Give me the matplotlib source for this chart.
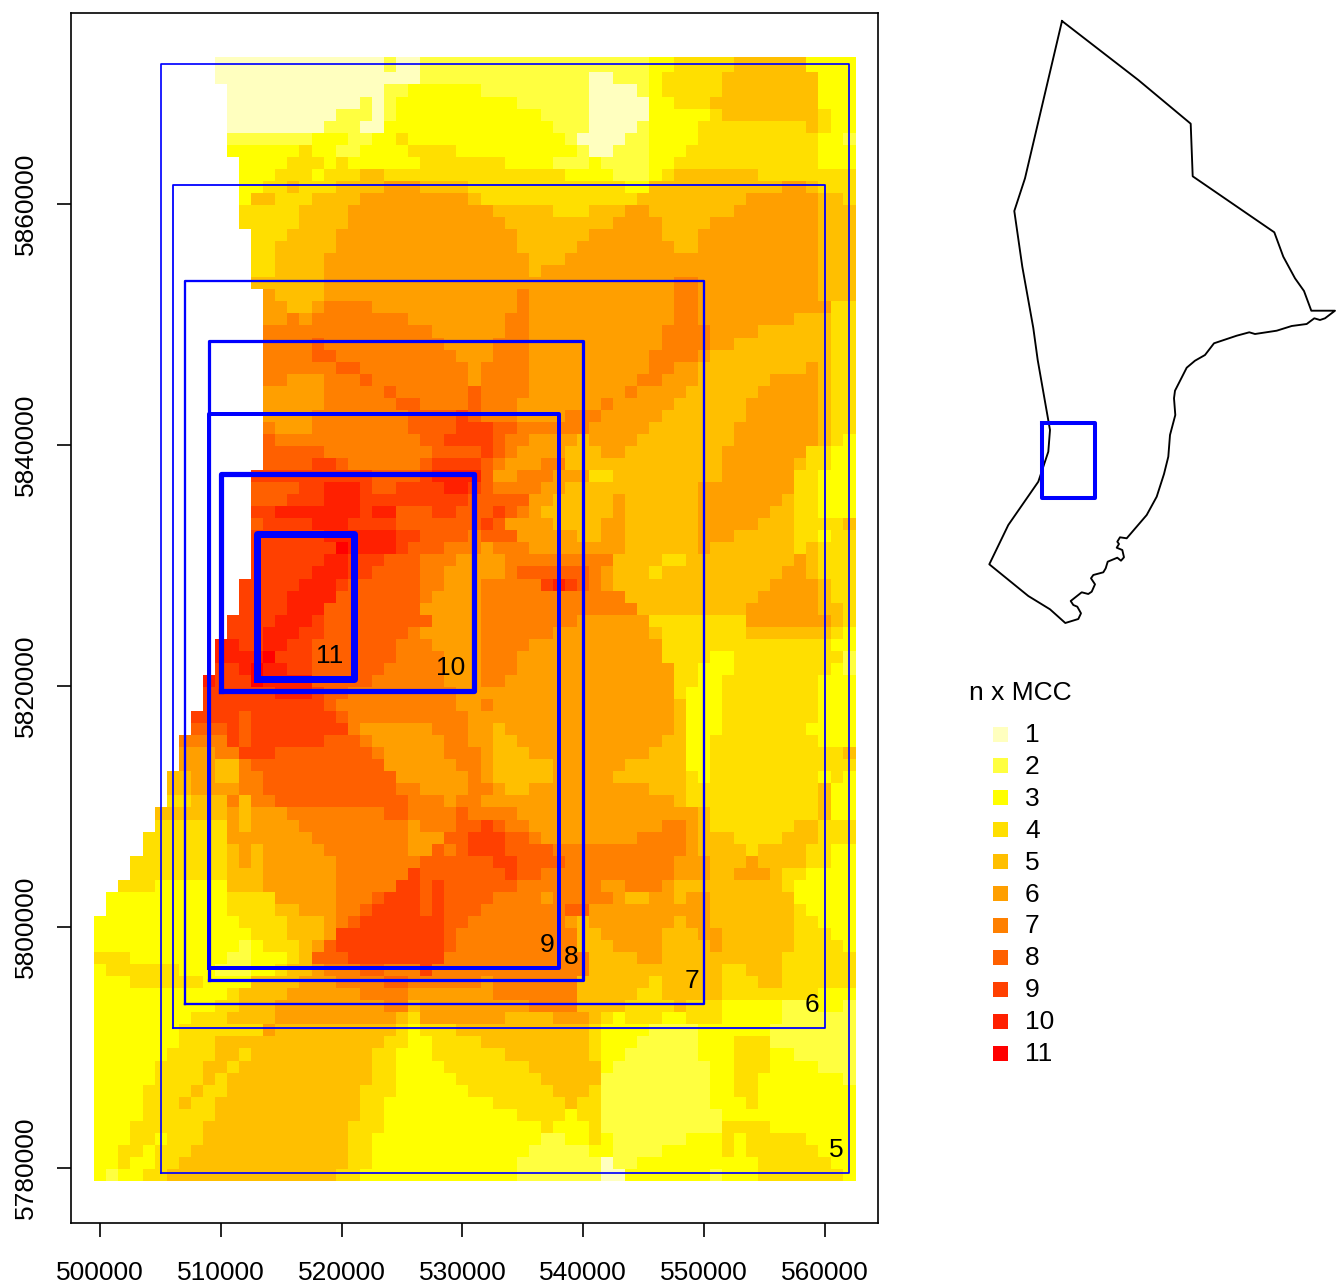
#!/usr/bin/python3

import numpy as np
import matplotlib
matplotlib.use('Agg')
import matplotlib.pyplot as plt
from matplotlib.colors import ListedColormap, BoundaryNorm
from matplotlib.patches import Rectangle

plt.rcParams['font.family'] = ['Liberation Sans', 'DejaVu Sans']

# n x MCC classes, top row first. "v@k" = value v up to (not including) column k, 0 = no data
raster_runs = [
    "0@10 1@24 2@25 1@27 2@46 3@48 4@53 5@59 3@63",
    "0@10 1@27 2@41 1@43 2@46 3@47 4@52 5@60 3@63",
    "0@11 1@24 2@26 3@32 2@41 1@45 2@46 3@47 4@52 5@60 3@63",
    "0@11 1@22 2@23 1@24 2@25 3@35 2@41 1@46 3@48 4@51 5@60 3@63",
    "0@11 1@20 2@23 1@24 2@25 3@37 2@41 1@46 3@51 4@52 5@60 4@61 3@63",
    "0@11 1@19 2@22 1@24 3@38 2@41 1@45 2@46 3@50 4@59 5@60 4@61 3@63",
    "0@11 2@18 3@21 2@23 3@25 4@26 3@39 2@40 1@44 2@46 3@50 4@60 3@62 2@63",
    "0@11 3@17 4@18 3@20 2@22 3@26 4@30 3@40 2@41 1@43 2@46 3@49 4@60 3@63",
    "0@12 3@16 4@19 3@20 4@21 3@27 4@34 3@38 2@41 3@42 2@46 3@48 4@60 3@63",
    "0@12 3@15 4@18 3@19 4@22 5@24 4@39 3@43 2@46 3@47 4@48 5@55 4@63",
    "0@12 3@14 4@16 5@17 4@20 5@24 6@27 5@31 4@44 3@46 5@57 6@59 5@60 4@63",
    "0@12 3@13 5@15 4@18 5@22 6@31 5@32 4@45 5@54 6@60 5@62 4@63",
    "0@12 4@17 5@21 6@33 5@38 4@41 5@44 6@46 5@53 6@60 5@63",
    "0@12 4@17 5@21 6@34 5@43 6@47 5@51 6@60 5@63",
    "0@13 4@16 5@20 6@35 5@41 6@47 5@50 6@60 5@63",
    "0@13 4@15 5@20 6@35 5@40 6@48 5@50 6@60 5@63",
    "0@13 4@15 5@19 6@36 5@39 6@60 5@63",
    "0@13 4@15 5@19 6@36 5@37 6@60 5@63",
    "0@13 5@19 6@48 7@50 6@60 5@63",
    "0@14 6@15 5@19 6@35 7@36 6@48 7@50 6@60 5@63",
    "0@14 6@16 5@18 6@19 7@23 6@35 7@36 6@48 7@50 6@61 4@63",
    "0@14 6@16 7@17 6@18 7@26 6@34 7@36 6@48 7@50 6@58 5@61 4@63",
    "0@14 7@28 6@34 7@36 6@47 7@51 6@55 5@61 4@63",
    "0@14 7@18 8@19 7@29 6@33 7@36 6@47 7@51 6@53 5@61 4@63",
    "0@14 7@18 8@20 7@30 6@33 7@36 6@46 7@50 6@51 5@61 4@63",
    "0@14 7@20 8@22 7@31 6@32 7@36 6@46 7@48 6@50 5@59 6@60 5@61 4@63",
    "0@14 7@16 6@19 7@22 8@23 7@31 6@32 7@36 6@45 7@47 6@50 5@56 6@60 5@61 4@63",
    "0@14 6@19 7@24 8@25 7@31 8@32 7@36 6@44 7@45 6@49 5@55 6@60 5@61 4@63",
    "0@14 6@19 7@25 8@27 7@31 8@32 7@35 6@42 7@43 6@48 5@54 6@60 5@61 4@63",
    "0@14 6@18 7@26 8@30 9@31 8@32 7@35 6@39 7@42 6@47 5@54 6@60 5@61 4@63",
    "0@14 7@15 6@18 7@26 8@30 9@33 8@35 7@41 6@46 5@53 6@60 5@61 4@63",
    "0@14 8@15 7@27 8@29 9@33 8@34 7@36 6@40 5@41 6@45 5@53 6@60 5@61 4@62 3@63",
    "0@14 8@19 7@28 8@32 9@33 8@34 7@35 6@39 5@42 6@44 5@52 6@59 4@61 3@63",
    "0@14 8@18 9@20 8@21 7@27 8@28 9@32 8@33 7@34 6@37 7@39 5@52 6@58 5@59 4@61 3@63",
    "0@13 9@23 8@27 9@28 10@32 8@33 6@35 7@38 6@41 4@43 5@52 6@58 4@60 3@63",
    "0@13 8@17 9@19 10@22 9@23 8@25 9@29 10@31 9@32 8@33 7@37 6@39 5@50 6@58 4@60 3@63",
    "0@13 8@16 9@19 10@22 9@31 8@36 6@38 5@43 6@44 5@50 6@57 5@58 4@60 3@63",
    "0@13 9@15 10@22 9@23 10@25 8@28 9@30 8@33 9@34 8@35 7@36 6@37 5@43 6@44 5@50 6@56 5@58 4@60 3@63",
    "0@13 8@14 9@18 10@21 9@25 8@32 9@33 8@34 6@38 5@42 6@44 5@50 6@55 5@58 4@62 5@63",
    "0@13 9@19 10@25 9@27 8@31 7@32 8@35 6@40 5@42 6@44 5@50 6@53 5@58 4@60 3@61 4@63",
    "0@13 9@20 11@21 10@25 9@26 8@29 7@32 6@33 7@36 6@44 5@50 6@51 5@58 4@59 5@60 4@63",
    "0@13 9@19 10@21 9@24 8@27 7@30 6@34 7@43 5@47 4@49 5@58 6@59 5@60 4@63",
    "0@13 9@18 10@21 9@23 8@27 7@29 6@34 7@35 8@41 7@42 6@43 5@46 4@47 5@57 6@59 5@60 4@63",
    "0@12 9@17 10@20 9@21 8@27 7@29 6@32 7@37 9@38 10@39 9@40 8@41 7@42 6@43 5@56 6@60 5@61 4@63",
    "0@12 9@16 10@20 8@27 7@28 6@32 7@44 5@55 6@60 5@61 4@63",
    "0@12 9@16 10@19 8@27 6@32 7@45 5@54 6@60 5@62 4@63",
    "0@11 9@15 10@18 9@19 8@28 6@32 7@40 6@46 4@54 6@61 5@62 4@63",
    "0@11 9@14 10@17 9@19 8@26 7@27 6@32 7@38 6@46 5@47 4@54 5@61 4@62 3@63",
    "0@10 10@12 9@14 10@16 9@18 8@25 7@28 6@32 7@36 6@47 4@61 3@63",
    "0@10 10@14 11@15 9@18 8@25 7@29 6@32 7@35 6@47 4@51 3@53 4@62 2@63",
    "0@10 9@12 10@13 11@14 10@16 9@18 8@24 7@29 6@32 7@35 6@48 4@50 3@53 4@61 3@62 2@63",
    "0@9 10@10 9@13 11@14 10@18 8@23 7@29 6@32 7@34 6@48 4@50 3@52 4@60 3@63",
    "0@9 9@15 10@18 9@19 8@21 7@30 6@48 4@49 3@52 4@60 3@63",
    "0@9 9@19 8@20 7@30 6@32 7@33 6@48 5@49 3@52 4@60 3@63",
    "0@8 9@12 8@13 9@20 8@21 7@31 6@48 5@49 3@52 4@60 3@63",
    "0@8 8@11 9@12 8@13 9@21 7@22 6@28 7@31 6@33 5@34 6@48 5@49 3@52 4@59 3@63",
    "0@7 7@11 9@12 8@13 9@19 8@22 7@23 6@29 7@31 6@33 5@35 6@47 5@49 3@51 4@60 3@63",
    "0@7 6@10 7@12 9@15 8@23 7@24 6@29 7@32 6@33 5@36 6@46 5@49 3@51 4@62 5@63",
    "0@7 6@10 5@12 7@13 8@24 6@30 7@32 6@33 5@38 6@44 5@49 3@51 4@63",
    "0@6 5@8 6@10 5@12 7@14 8@25 6@31 7@32 6@33 5@38 6@43 5@49 4@50 3@51 4@60 3@61 4@62 3@63",
    "0@6 5@8 6@12 7@14 8@25 7@27 6@31 7@33 6@34 5@36 6@46 5@49 4@60 5@61 3@63",
    "0@6 4@8 5@11 7@12 5@13 7@15 8@26 7@29 6@30 7@32 6@48 5@49 4@60 5@61 3@63",
    "0@5 5@11 6@12 5@13 6@16 7@24 8@26 7@30 8@31 7@35 6@50 5@51 4@60 5@61 3@63",
    "0@5 4@11 6@12 5@13 6@17 7@26 6@27 7@30 8@32 9@33 8@34 7@36 6@47 7@49 6@50 5@51 4@58 5@60 4@63",
    "0@4 4@11 6@18 7@26 6@29 8@31 9@34 8@36 7@37 6@45 7@49 6@50 5@53 4@57 5@60 4@63",
    "0@4 4@11 5@12 6@13 5@14 6@19 7@26 6@28 8@29 7@30 8@31 9@34 8@38 7@49 6@50 5@54 4@55 5@59 4@61 3@63",
    "0@3 4@11 5@12 6@13 5@14 6@20 7@27 8@33 9@35 8@39 7@48 6@51 5@54 6@55 5@59 4@61 3@63",
    "0@3 4@11 5@14 6@20 7@26 9@27 8@34 9@35 8@37 7@48 6@51 5@53 6@56 5@57 4@59 3@63",
    "0@2 4@5 3@11 5@14 6@20 7@25 9@27 8@28 9@29 8@35 7@42 6@44 7@47 6@48 5@57 4@58 3@63",
    "0@1 3@11 4@15 6@20 7@23 8@24 9@27 8@28 9@29 8@33 7@37 6@38 7@43 6@44 5@46 6@48 5@49 6@51 5@58 3@63",
    "0@1 3@11 4@15 5@17 6@20 7@22 8@23 9@27 8@28 9@29 8@32 7@39 8@41 6@51 5@58 4@59 3@63",
    "3@12 4@16 5@19 6@20 7@21 8@22 9@29 8@31 7@39 6@40 5@41 6@48 5@49 6@51 5@58 4@60 3@63",
    "3@13 4@16 5@19 6@20 9@29 8@30 7@40 5@42 6@47 5@50 6@52 5@58 4@61 3@63",
    "3@12 2@13 3@14 4@17 5@18 6@19 8@20 9@29 8@30 7@40 5@43 6@47 5@51 6@52 5@58 4@62 3@63",
    "4@3 3@11 2@13 3@16 4@17 5@18 8@21 9@29 7@41 5@45 6@47 5@57 4@63",
    "3@1 4@7 3@10 2@13 3@15 4@16 5@18 6@19 7@22 8@24 7@27 9@28 7@41 5@52 4@54 5@57 4@63",
    "3@3 4@9 3@13 5@17 6@20 7@24 8@26 7@32 6@33 7@40 5@46 4@47 5@52 4@55 5@57 4@63",
    "3@11 4@12 5@16 6@22 7@26 6@33 7@40 5@45 4@47 5@52 4@60 3@63",
    "3@10 4@12 5@15 6@24 7@26 5@27 6@36 7@40 5@44 4@48 5@49 4@52 3@57 2@60 3@62 2@63",
    "3@8 4@11 5@15 6@25 5@26 4@27 6@34 5@38 6@41 5@42 4@43 3@44 4@47 3@49 4@52 3@57 2@63",
    "3@7 4@14 6@15 5@25 4@26 3@27 4@30 5@41 4@42 3@46 2@50 3@56 2@63",
    "3@7 4@10 5@24 4@26 3@28 4@32 5@41 4@42 3@45 2@50 3@53 4@56 2@63",
    "3@6 4@10 5@12 4@13 5@23 4@25 3@28 4@34 5@41 4@42 3@44 2@50 3@53 4@56 3@58 2@63",
    "3@5 4@9 5@11 4@12 5@23 4@25 3@29 4@36 5@42 3@43 2@51 3@53 4@56 3@60 2@63",
    "3@5 4@9 5@10 4@11 5@23 4@25 3@30 4@37 5@42 2@51 3@53 4@55 3@62 2@63",
    "3@4 4@8 5@9 4@11 5@22 4@25 3@31 4@38 5@41 4@42 2@51 3@53 4@55 3@63",
    "3@4 4@7 5@8 4@10 5@22 4@24 3@33 4@39 5@40 4@42 2@51 3@54 4@55 3@63",
    "3@4 4@10 5@22 4@24 3@35 4@39 3@40 4@42 2@52 3@63",
    "3@3 4@9 5@21 4@24 3@37 4@38 3@41 4@42 2@52 4@56 3@63",
    "3@3 4@5 3@6 4@9 5@21 4@23 3@37 2@39 3@41 4@42 3@43 2@49 3@52 4@53 3@54 4@59 3@63",
    "3@2 4@4 3@5 4@8 5@21 4@23 3@36 2@41 3@43 2@47 3@52 4@53 3@54 4@60 3@63",
    "3@2 4@3 3@5 4@7 5@21 4@23 3@35 2@42 1@43 2@45 3@55 4@61 3@63",
    "3@1 2@2 3@4 4@6 5@20 4@22 3@35 2@42 1@44 3@51 2@52 3@55 4@62 3@63",
]

class_labels = ['1', '2', '3', '4', '5', '6', '7', '8', '9', '10', '11']
class_colors = ['#FFFFBF', '#FFFF40', '#FFFF00', '#FFDF00', '#FFBF00', '#FF9F00',
                '#FF8000', '#FF6000', '#FF4000', '#FF2000', '#FF0000']

# study windows for 5..11 x MCC
box_labels = ['5', '6', '7', '8', '9', '10', '11']
box_xmin = [505000, 506000, 507000, 509000, 509000, 510000, 513000]
box_xmax = [562000, 560000, 550000, 540000, 538000, 531000, 521000]
box_ymin = [5779600, 5791600, 5793600, 5795600, 5796600, 5819600, 5820600]
box_ymax = [5871600, 5861600, 5853600, 5848600, 5842600, 5837600, 5832600]
box_width_px = [1.7, 1.8, 2.3, 3.2, 4.0, 5.2, 7.0]
label_dx = [-1000, -1000, -1000, -1000, -1000, -2000, -2000]

x_ticks = [500000, 510000, 520000, 530000, 540000, 550000, 560000]
y_ticks = [5780000, 5800000, 5820000, 5840000, 5860000]

# overview outline, read in picture pixels
outline_x = [1062, 1138.3, 1190.7, 1192.7, 1274.3, 1283.3, 1295, 1304, 1311.3, 1335, 1325, 1320,
             1314.3, 1306.7, 1291.7, 1276.7, 1255, 1249.3, 1236.7, 1214, 1205, 1195, 1186.7, 1175,
             1174, 1175.3, 1170, 1168.3, 1164, 1156.7, 1146.7, 1126.7, 1120, 1117.3, 1119, 1116.7,
             1122.3, 1124, 1121, 1117.3, 1107.7, 1105.7, 1103.3, 1093.3, 1091, 1095, 1091.7, 1088.3,
             1081.7, 1070.7, 1073.3, 1077.3, 1081, 1078.3, 1065.3, 1050, 1028.3, 989.3, 1008.3,
             1038.3, 1048.3, 1050, 1037.7, 1033.3, 1022.3, 1014.3, 1025, 1062]
outline_y = [21, 80, 123.7, 176.3, 232.3, 256.7, 278.3, 291, 310.7, 310.7, 318.3, 320,
             318.3, 324, 326, 330.7, 334, 332.3, 335.7, 343.3, 355, 360.7, 367.7, 390.7,
             398.3, 415, 435, 456.7, 474, 496.7, 515, 538.3, 537.3, 541.7, 544, 547.7,
             550, 557.3, 560.7, 557.7, 561.7, 568.3, 572.3, 575, 578.3, 584.3, 591.7, 594,
             592.3, 601, 605, 606.7, 613.3, 619, 623, 609.3, 596, 564.3, 525,
             481.7, 451.7, 430, 360, 328, 266.7, 211, 178.3, 21]
inset_box_x = [1041.7, 1095, 1095, 1041.7, 1041.7]
inset_box_y = [423.3, 423.3, 497.7, 497.7, 423.3]


def parse_runs(runs):
    grid = np.zeros((len(runs), 63), dtype=int)
    for r, row in enumerate(runs):
        start = 0
        for token in row.split():
            value, end = token.split('@')
            grid[r, start:int(end)] = int(value)
            start = int(end)
    return grid


def px_rect(ax, x, y, w, h, color):
    ax.add_patch(Rectangle((x, y), w, h, facecolor=color, edgecolor='none'))


def main():
    fig = plt.figure(figsize=(13.36, 12.85), dpi=100)
    ax = fig.add_axes([71 / 1336, (1285 - 1223) / 1285, 807 / 1336, 1210 / 1285])

    grid = parse_runs(raster_runs)[::-1]
    data = np.ma.masked_equal(grid, 0)
    x_edges = 499500.0 + 1000 * np.arange(64)
    x_edges[-1] = 562600
    y_edges = 5778920.0 + 1000 * np.arange(94)
    y_edges[-1] = 5872200
    cmap = ListedColormap(class_colors)
    norm = BoundaryNorm(np.arange(0.5, 12.5), cmap.N)
    ax.pcolormesh(x_edges, y_edges, data, cmap=cmap, norm=norm, antialiased=False, linewidth=0)

    for i in range(len(box_labels)):
        xs = [box_xmin[i], box_xmax[i], box_xmax[i], box_xmin[i], box_xmin[i]]
        ys = [box_ymin[i], box_ymin[i], box_ymax[i], box_ymax[i], box_ymin[i]]
        ax.plot(xs, ys, color='#0000FF', lw=box_width_px[i] * 0.72, solid_joinstyle='round')
        ax.text(box_xmax[i] + label_dx[i], box_ymin[i] + 1900, box_labels[i],
                fontsize=19, ha='center', va='center', color='black')

    ax.set_xlim(497573, 564432)
    ax.set_ylim(5775436, 5875851)
    ax.set_xticks(x_ticks)
    ax.set_xticklabels([str(v) for v in x_ticks], fontsize=19)
    ax.set_yticks(y_ticks)
    ax.set_yticklabels([str(v) for v in y_ticks], fontsize=19, rotation=90, va='center')
    ax.tick_params(axis='x', length=10, width=1.2, pad=17)
    ax.tick_params(axis='y', length=10, width=1.2, pad=14)
    for spine in ax.spines.values():
        spine.set_linewidth(1.2)

    # overview map and legend sit in a full-figure layer in picture pixels
    over = fig.add_axes([0, 0, 1, 1], facecolor='none')
    over.set_xlim(0, 1336)
    over.set_ylim(1285, 0)
    over.axis('off')
    over.plot(outline_x, outline_y, color='black', lw=1.35, solid_joinstyle='round')
    over.plot(inset_box_x, inset_box_y, color='#0000FF', lw=2.9, solid_joinstyle='round')

    over.text(969, 693, 'n x MCC', fontsize=19, ha='left', va='center')
    for i, label in enumerate(class_labels):
        yc = 734 + i * 31.9
        px_rect(over, 993, yc - 7.5, 15, 15, class_colors[i])
        over.text(1025, yc + 1, label, fontsize=19, ha='left', va='center')

    fig.savefig('out.png', dpi=100)


if __name__ == '__main__':
    main()
